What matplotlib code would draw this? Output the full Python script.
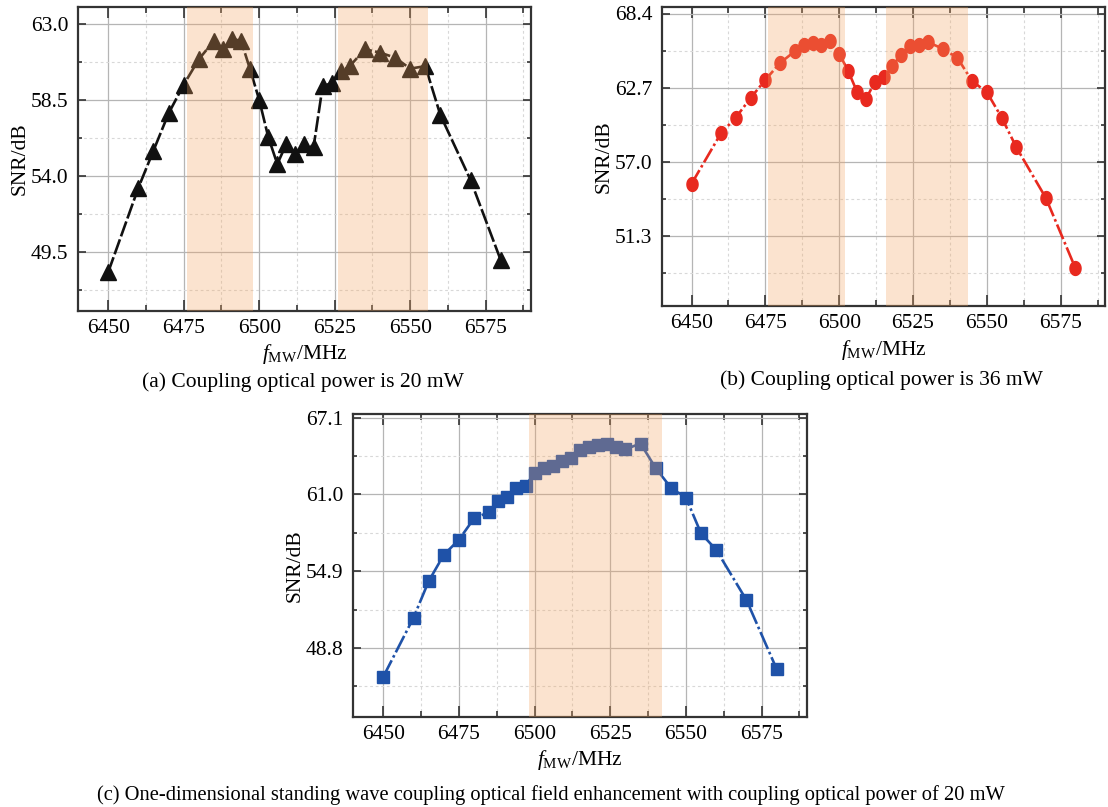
import matplotlib
matplotlib.use("Agg")
import numpy as np
import matplotlib.pyplot as plt
from matplotlib.path import Path
from matplotlib.ticker import MultipleLocator, FixedLocator, FormatStrFormatter

plt.rcParams['font.family'] = ['Liberation Serif', 'DejaVu Serif']
plt.rcParams['mathtext.fontset'] = 'custom'
plt.rcParams['mathtext.rm'] = 'Liberation Serif'
plt.rcParams['mathtext.it'] = 'Liberation Serif:italic'

# frequency points (same for the three panels)
freq = [6450, 6460, 6465, 6470, 6475, 6480, 6485, 6488, 6491, 6494,
        6497, 6500, 6503, 6506, 6509, 6512, 6515, 6518, 6521, 6524,
        6527, 6530, 6535, 6540, 6545, 6550, 6555, 6560, 6570, 6580]

# (a) 20 mW
snr_a = [48.3, 53.3, 55.5, 57.7, 59.4, 60.9, 62.0, 61.5, 62.1, 62.0,
         60.3, 58.5, 56.3, 54.7, 55.9, 55.3, 55.9, 55.7, 59.3, 59.5,
         60.2, 60.5, 61.5, 61.3, 61.0, 60.35, 60.5, 57.6, 53.75, 49.0]
# (b) 36 mW
snr_b = [55.3, 59.2, 60.4, 61.9, 63.3, 64.6, 65.5, 66.0, 66.1, 66.0,
         66.3, 65.3, 64.0, 62.4, 61.8, 63.1, 63.5, 64.4, 65.2, 65.9,
         66.0, 66.2, 65.7, 65.0, 63.2, 62.35, 60.4, 58.1, 54.2, 48.8]
# (c) standing wave, 20 mW
snr_c = [46.5, 51.2, 54.1, 56.2, 57.4, 59.1, 59.6, 60.5, 60.8, 61.55,
         61.7, 62.7, 63.1, 63.3, 63.7, 63.9, 64.5, 64.8, 64.9, 65.05,
         64.8, 64.6, 65.05, 63.1, 61.55, 60.75, 57.9, 56.6, 52.6, 47.1]

bands_a = [(6476, 6498), (6526, 6556)]
bands_b = [(6476, 6502), (6516, 6543.5)]
bands_c = [(6498, 6542)]

yticks_a = [49.5, 54.0, 58.5, 63.0]
yticks_b = [51.3, 57.0, 62.7, 68.4]
yticks_c = [48.8, 54.9, 61.0, 67.1]

captions = ['(a) Coupling optical power is 20 mW',
            '(b) Coupling optical power is 36 mW',
            '(c) One-dimensional standing wave coupling optical field enhancement with coupling optical power of 20 mW']

W, H = 1108, 807
fig = plt.figure(figsize=(W / 100, H / 100), dpi=100)

# slightly tall ellipse for the red dots
t = np.linspace(0, 2 * np.pi, 40)
oval = Path(np.column_stack([0.8 * np.cos(t), np.sin(t)]), closed=True)


def box(l, t, r, b):
    return [l / W, 1 - b / H, (r - l) / W, (b - t) / H]


def panel(rect, y, bands, yticks, ylim, color, marker, ms, ls):
    ax = fig.add_axes(rect)
    ax.plot(freq, y, color=color, marker=marker, ms=ms, lw=1.9, ls=ls, zorder=3)
    for lo, hi in bands:
        ax.axvspan(lo, hi, color='sandybrown', alpha=0.3, lw=0, zorder=4)
    ax.set_xlim(6440, 6590)
    ax.set_ylim(*ylim)
    ax.xaxis.set_major_locator(MultipleLocator(25))
    ax.xaxis.set_minor_locator(MultipleLocator(12.5))
    ax.yaxis.set_major_locator(FixedLocator(yticks))
    step = (yticks[1] - yticks[0]) / 2
    ax.yaxis.set_minor_locator(MultipleLocator(step))
    ax.yaxis.set_major_formatter(FormatStrFormatter('%.1f'))
    ax.grid(which='major', color='#b5b5b5', lw=0.9, zorder=1)
    ax.grid(which='minor', color='#d8d8d8', lw=0.8, ls=(0, (2.5, 2.5)), zorder=1)
    ax.tick_params(which='both', direction='in', top=True, right=True,
                   labelsize=15.5, color='#333333', width=1.2)
    ax.tick_params(axis='x', which='major', length=8, pad=6)
    ax.tick_params(axis='x', which='minor', length=4)
    ax.tick_params(axis='y', which='major', length=6, pad=7)
    ax.tick_params(axis='y', which='minor', length=3)
    for s in ax.spines.values():
        s.set_color('#333333')
        s.set_linewidth(1.6)
    ax.set_xlabel(r'$f_{\rm MW}$/MHz', fontsize=15.5, labelpad=3)
    ax.set_ylabel('SNR/dB', fontsize=15.5, labelpad=1)
    return ax


panel(box(78, 7, 531, 311), snr_a, bands_a, yticks_a, (46.0, 64.0),
      '#111111', '^', 11.5, (0, (6, 1.2)))
panel(box(662, 7, 1105, 306), snr_b, bands_b, yticks_b, (45.9, 68.9),
      '#e8291f', oval, 10, (0, (6, 1.2, 1, 1.2)))
panel(box(353, 414, 807, 717), snr_c, bands_c, yticks_c, (43.3, 67.4),
      '#1f52a8', 's', 9, (0, (7, 1.2, 1, 1.2)))

fig.text(303 / W, 1 - 382 / H, captions[0], ha='center', va='center', fontsize=15.5)
fig.text(881 / W, 1 - 380 / H, captions[1], ha='center', va='center', fontsize=15.5)
fig.text(551 / W, 1 - 795 / H, captions[2], ha='center', va='center', fontsize=14.8)

fig.savefig('out.png', dpi=100)
